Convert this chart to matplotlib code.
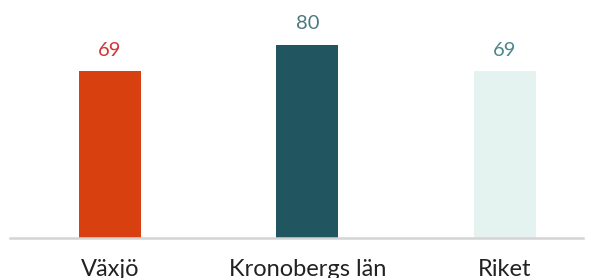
import matplotlib.pyplot as plt
import matplotlib.transforms as mtransforms

categories = ['Växjö', 'Kronobergs län', 'Riket']
values = [69, 80, 69]
bar_colors = ['#D8400F', '#215560', '#E4F3EF']
label_colors = ['#D03636', '#4D7880', '#4B888C']

plt.rcParams['font.family'] = ['Lato', 'DejaVu Sans']

fig = plt.figure(figsize=(5.93, 2.78), dpi=100)
ax = fig.add_axes([10 / 593, 40 / 278, 573 / 593, 238 / 278])

x = list(range(len(categories)))
ax.bar(x, values, width=0.314, color=bar_colors, zorder=2)
ax.set_xlim(-0.506, 2.395)
ax.set_ylim(0, 98.5)

for xi, v, c in zip(x, values, label_colors):
    ax.annotate(str(v), (xi, v), xytext=(0, 11), textcoords='offset points',
                ha='center', va='baseline', fontsize=14.5, color=c)

trans = mtransforms.blended_transform_factory(ax.transData, ax.transAxes)
for xi, name in zip(x, categories):
    ax.text(xi, -38 / 238, name, transform=trans, ha='center', va='baseline',
            fontsize=17, color='#222222')

for s in ['top', 'right', 'left']:
    ax.spines[s].set_visible(False)
ax.spines['bottom'].set_color('#D4D4D4')
ax.spines['bottom'].set_linewidth(1.8)
ax.set_xticks([])
ax.set_yticks([])

fig.savefig('out.png', dpi=100)
